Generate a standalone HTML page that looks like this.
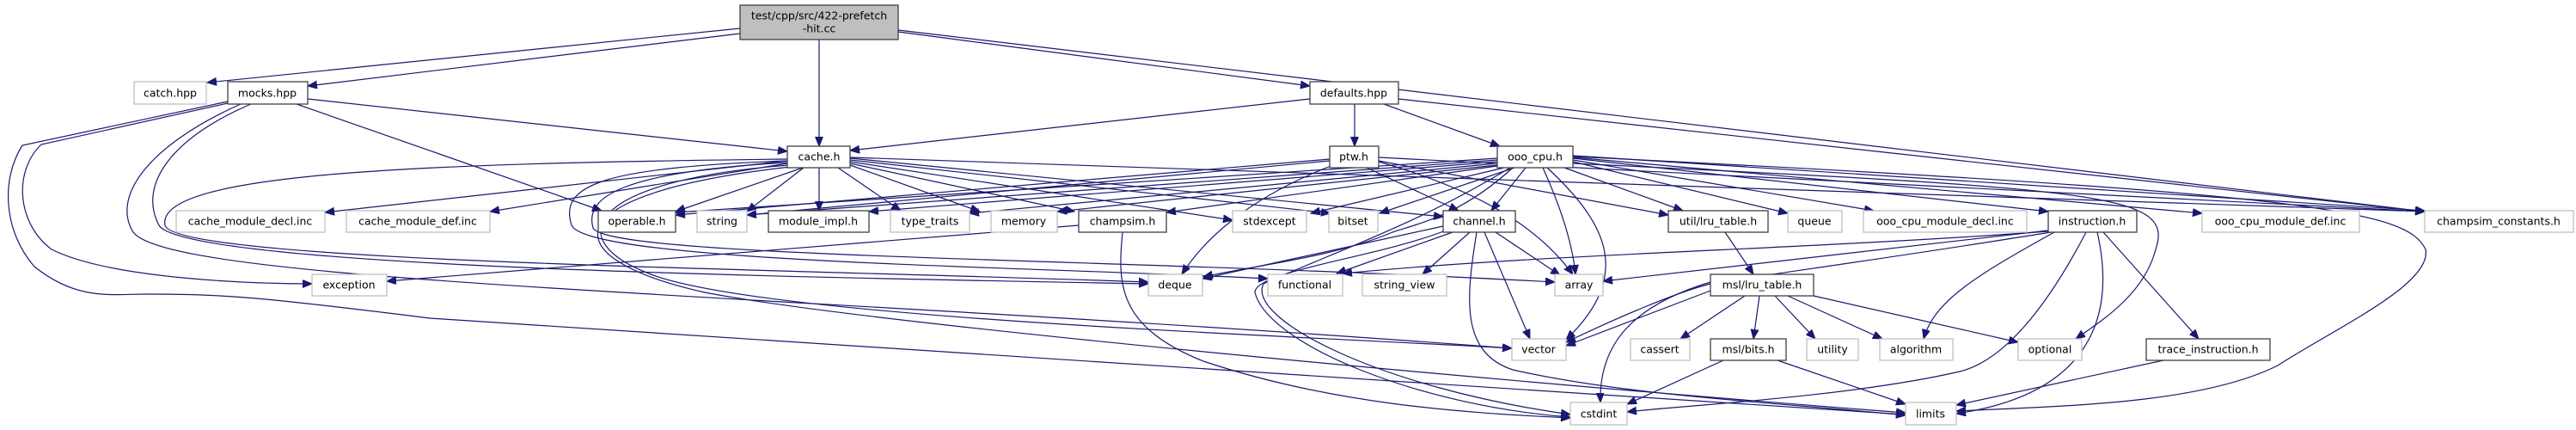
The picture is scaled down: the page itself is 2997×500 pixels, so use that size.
<!DOCTYPE html>
<html><head><meta charset="utf-8"><style>
html,body{margin:0;padding:0;background:#fff;}
svg{display:block;}
text{font-family:"DejaVu Sans","Liberation Sans",sans-serif;font-size:12.5px;fill:#000;text-anchor:middle;dominant-baseline:central;}
.e{fill:none;stroke:#191970;stroke-width:1.2;marker-end:url(#a);}
.d{fill:#fff;stroke:#404040;stroke-width:1.3;}
.u{fill:#fff;stroke:#bfbfbf;stroke-width:1.3;}
</style></head><body>
<svg width="2997" height="500" viewBox="0 0 2997 500" xmlns="http://www.w3.org/2000/svg">
<defs><marker id="a" markerUnits="userSpaceOnUse" markerWidth="12" markerHeight="10" refX="11" refY="4.5" orient="auto"><path d="M0,0 L11,4.5 L0,9 z" fill="#191970" stroke="#191970"/></marker></defs>
<g>
<!-- root -->
<path class="e" d="M861,33 L241,96"/>
<path class="e" d="M861,39 L358,100"/>
<path class="e" d="M953,46 L953,170"/>
<path class="e" d="M1045,37 L1524,100"/>
<path class="e" d="M1045,35 L2821,246"/>
<!-- mocks -->
<path class="e" d="M358,115 L916,176"/>
<path class="e" d="M345,121 L700,245"/>
<path class="e" d="M265,120 L48,168 C15,200 20,260 60,290 C130,325 300,330 363,330"/>
<path class="e" d="M265,118 L26,169 C0,210 5,270 40,310 C90,350 130,342 170,342 C260,342 300,345 500,370 L2217,482"/>
<path class="e" d="M292,121 C200,160 160,215 185,262 C215,310 900,322 1336,330"/>
<path class="e" d="M280,121 C170,170 130,230 155,270 C200,330 900,340 1759,405"/>
<!-- cache -->
<path class="e" d="M916,187 L378,247"/>
<path class="e" d="M916,190 L570,246"/>
<path class="e" d="M934,195 L786,246"/>
<path class="e" d="M935,195 L869,246"/>
<path class="e" d="M953,195 L953,245"/>
<path class="e" d="M975,195 L1048,245"/>
<path class="e" d="M989,192 L1140,246"/>
<path class="e" d="M989,190 L1250,246"/>
<path class="e" d="M989,188 L1434,256"/>
<path class="e" d="M989,186 L1548,248"/>
<path class="e" d="M989,184 L1679,252"/>
<path class="e" d="M989,183 L2821,246"/>
<path class="e" d="M916,185 C500,190 180,200 192,262 C205,305 900,312 1336,328"/>
<path class="e" d="M916,187 C700,195 650,215 665,262 C685,305 1200,310 1475,324"/>
<path class="e" d="M916,189 C720,200 680,230 690,265 C705,300 1300,300 1809,328"/>
<path class="e" d="M918,192 C680,210 650,280 760,320 C900,370 1500,390 1759,405"/>
<path class="e" d="M920,194 C640,225 640,300 820,340 C1000,375 1700,440 2217,480"/>
<!-- defaults -->
<path class="e" d="M1524,115 L989,175"/>
<path class="e" d="M1576,121 L1576,170"/>
<path class="e" d="M1610,121 L1745,170"/>
<path class="e" d="M1627,115 L2821,246"/>
<!-- ptw -->
<path class="e" d="M1547,185 L786,250"/>
<path class="e" d="M1547,187 L869,250"/>
<path class="e" d="M1556,190 C1450,230 1400,280 1375,319"/>
<path class="e" d="M1590,195 L1697,245"/>
<path class="e" d="M1604,188 C1750,230 1800,280 1830,319"/>
<path class="e" d="M1604,187 L1941,250"/>
<path class="e" d="M1604,183 L2821,246"/>
<!-- ooo_cpu -->
<path class="e" d="M1742,184 L786,247"/>
<path class="e" d="M1742,186 L869,250"/>
<path class="e" d="M1742,188 L1011,246"/>
<path class="e" d="M1742,190 L1128,248"/>
<path class="e" d="M1742,192 L1230,246"/>
<path class="e" d="M1742,193 L1357,247"/>
<path class="e" d="M1750,195 L1525,248"/>
<path class="e" d="M1762,195 L1605,248"/>
<path class="e" d="M1775,195 L1735,245"/>
<path class="e" d="M1760,195 C1700,250 1650,260 1620,270 C1550,300 1450,310 1400,322"/>
<path class="e" d="M1795,195 C1820,250 1830,290 1833,319"/>
<path class="e" d="M1800,195 C1870,260 1900,320 1822,395"/>
<path class="e" d="M1820,195 L1958,245"/>
<path class="e" d="M1830,188 L2080,248"/>
<path class="e" d="M1830,186 L2180,245"/>
<path class="e" d="M1830,184 L2383,246"/>
<path class="e" d="M1830,183 L2562,248"/>
<path class="e" d="M1830,181 L2821,245"/>
<path class="e" d="M1830,190 C2450,220 2530,225 2508,290 C2495,340 2450,370 2415,394"/>
<path class="e" d="M1830,182 C2700,225 2800,245 2822,290 C2830,330 2720,380 2650,425 C2560,470 2400,472 2276,478"/>
<path class="e" d="M1757,195 C1650,260 1560,290 1470,330 C1450,370 1600,450 1827,482"/>
<!-- channel -->
<path class="e" d="M1679,263 L1399,324"/>
<path class="e" d="M1690,270 L1555,318"/>
<path class="e" d="M1710,270 L1655,319"/>
<path class="e" d="M1740,270 L1815,320"/>
<path class="e" d="M1727,270 L1780,394"/>
<path class="e" d="M1718,270 C1705,350 1700,410 1760,430 C1900,462 2100,470 2217,483"/>
<path class="e" d="M1682,268 C1600,300 1460,315 1460,340 C1475,400 1650,472 1827,485"/>
<!-- champsim -->
<path class="e" d="M1255,262 L450,327"/>
<path class="e" d="M1306,270 C1300,330 1300,380 1400,420 C1550,470 1700,480 1827,486"/>
<!-- util lru -->
<path class="e" d="M2007,270 L2040,319"/>
<!-- msl lru -->
<path class="e" d="M1990,338 L1822,402"/>
<path class="e" d="M1990,328 C1900,355 1860,400 1862,468"/>
<path class="e" d="M2030,344 L1955,394"/>
<path class="e" d="M2047,344 L2040,394"/>
<path class="e" d="M2065,344 L2112,394"/>
<path class="e" d="M2080,344 L2190,394"/>
<path class="e" d="M2110,344 L2348,398"/>
<!-- msl bits -->
<path class="e" d="M2005,419 L1893,470"/>
<path class="e" d="M2068,419 L2217,470"/>
<!-- instruction -->
<path class="e" d="M2383,269 C2100,290 1800,295 1562,318"/>
<path class="e" d="M2383,268 L1865,327"/>
<path class="e" d="M2386,270 C2200,300 2050,320 1990,330 C1950,340 1880,370 1822,398"/>
<path class="e" d="M2390,270 C2300,320 2250,350 2238,394"/>
<path class="e" d="M2427,270 C2380,360 2330,420 2280,432 C2150,462 1950,472 1893,479"/>
<path class="e" d="M2440,270 C2465,380 2420,460 2276,481"/>
<path class="e" d="M2447,270 L2558,394"/>
<!-- trace -->
<path class="e" d="M2517,419 L2276,471"/>
</g>
<g>
<rect x="861" y="6" width="184" height="40" fill="#bfbfbf" stroke="#404040" stroke-width="1.3"/>
<text x="953" y="18">test/cpp/src/422-prefetch</text><text x="953" y="33">-hit.cc</text>

<rect class="u" x="156" y="95" width="84" height="26"/><text x="198" y="108">catch.hpp</text>
<rect class="d" x="265" y="95" width="93" height="26"/><text x="311" y="108">mocks.hpp</text>
<rect class="d" x="1524" y="95" width="103" height="26"/><text x="1575" y="108">defaults.hpp</text>

<rect class="d" x="916" y="170" width="73" height="25"/><text x="953" y="182">cache.h</text>
<rect class="d" x="1547" y="170" width="57" height="25"/><text x="1575" y="182">ptw.h</text>
<rect class="d" x="1742" y="170" width="88" height="25"/><text x="1786" y="182">ooo_cpu.h</text>

<rect class="u" x="205" y="245" width="173" height="25"/><text x="291" y="257">cache_module_decl.inc</text>
<rect class="u" x="403" y="245" width="167" height="25"/><text x="486" y="257">cache_module_def.inc</text>
<rect class="d" x="696" y="245" width="90" height="25"/><text x="741" y="257">operable.h</text>
<rect class="u" x="811" y="245" width="58" height="25"/><text x="840" y="257">string</text>
<rect class="d" x="894" y="245" width="117" height="25"/><text x="952" y="257">module_impl.h</text>
<rect class="u" x="1036" y="245" width="92" height="25"/><text x="1082" y="257">type_traits</text>
<rect class="u" x="1153" y="245" width="77" height="25"/><text x="1191" y="257">memory</text>
<rect class="d" x="1255" y="245" width="102" height="25"/><text x="1306" y="257">champsim.h</text>
<rect class="u" x="1434" y="245" width="86" height="25"/><text x="1477" y="257">stdexcept</text>
<rect class="u" x="1546" y="245" width="57" height="25"/><text x="1574" y="257">bitset</text>
<rect class="d" x="1679" y="245" width="84" height="25"/><text x="1721" y="257">channel.h</text>
<rect class="d" x="1941" y="245" width="116" height="25"/><text x="1999" y="257">util/lru_table.h</text>
<rect class="u" x="2080" y="245" width="63" height="25"/><text x="2111" y="257">queue</text>
<rect class="u" x="2168" y="245" width="190" height="25"/><text x="2263" y="257">ooo_cpu_module_decl.inc</text>
<rect class="d" x="2383" y="245" width="103" height="25"/><text x="2434" y="257">instruction.h</text>
<rect class="u" x="2562" y="245" width="183" height="25"/><text x="2653" y="257">ooo_cpu_module_def.inc</text>
<rect class="u" x="2821" y="245" width="173" height="25"/><text x="2907" y="257">champsim_constants.h</text>

<rect class="u" x="363" y="319" width="87" height="25"/><text x="406" y="331">exception</text>
<rect class="u" x="1336" y="319" width="63" height="25"/><text x="1367" y="331">deque</text>
<rect class="u" x="1475" y="319" width="87" height="25"/><text x="1518" y="331">functional</text>
<rect class="u" x="1585" y="319" width="98" height="25"/><text x="1634" y="331">string_view</text>
<rect class="u" x="1809" y="319" width="56" height="25"/><text x="1837" y="331">array</text>
<rect class="d" x="1990" y="319" width="120" height="25"/><text x="2050" y="331">msl/lru_table.h</text>

<rect class="u" x="1759" y="394" width="63" height="25"/><text x="1790" y="406">vector</text>
<rect class="u" x="1897" y="394" width="69" height="25"/><text x="1931" y="406">cassert</text>
<rect class="d" x="1990" y="394" width="88" height="25"/><text x="2034" y="406">msl/bits.h</text>
<rect class="u" x="2102" y="394" width="60" height="25"/><text x="2132" y="406">utility</text>
<rect class="u" x="2187" y="394" width="85" height="25"/><text x="2229" y="406">algorithm</text>
<rect class="u" x="2348" y="394" width="74" height="25"/><text x="2385" y="406">optional</text>
<rect class="d" x="2497" y="394" width="144" height="25"/><text x="2569" y="406">trace_instruction.h</text>

<rect class="u" x="1827" y="468" width="66" height="26"/><text x="1860" y="481">cstdint</text>
<rect class="u" x="2217" y="468" width="59" height="26"/><text x="2246" y="481">limits</text>
</g>
</svg>
</body></html>
